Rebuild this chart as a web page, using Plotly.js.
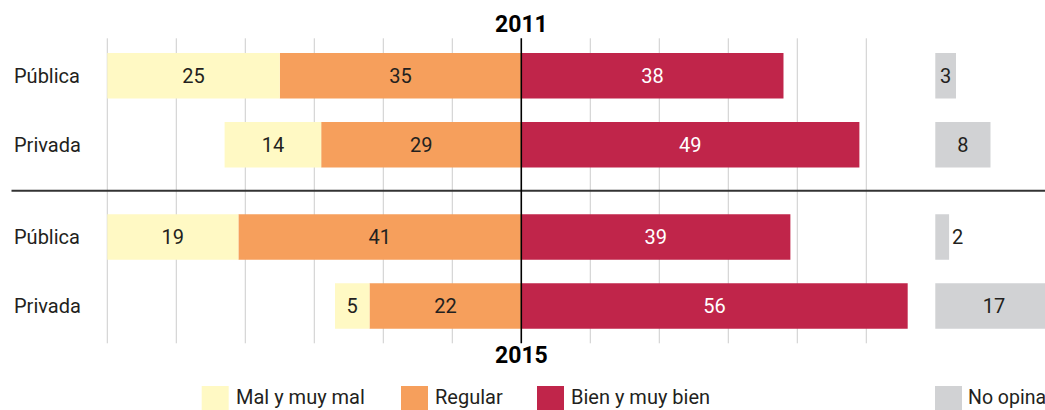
<!DOCTYPE html>
<html><head><meta charset="utf-8">
<script src="https://cdn.plot.ly/plotly-3.0.1.min.js"></script>
<style>html,body{margin:0;padding:0;background:#fff}#chart{width:1045px;height:410px}</style>
</head><body><div id="chart"></div>
<script>
const years = ['2011', '2015'];
const sectors = ['Pública', 'Privada'];
const mal2011 = [25, 14];
const regular2011 = [35, 29];
const bien2011 = [38, 49];
const noOpina2011 = [3, 8];
const mal2015 = [19, 5];
const regular2015 = [41, 22];
const bien2015 = [39, 56];
const noOpina2015 = [2, 17];
const seriesNames = ['Mal y muy mal', 'Regular', 'Bien y muy bien', 'No opina'];
const colors = ['#FFF9C4', '#F69F5C', '#C0254A', '#D1D2D4'];
const gridTicks = [-60, -50, -40, -30, -20, -10, 0, 10, 20, 30, 40, 50];
const noOpinaBase = 60;

const FONT = 'Roboto, "Open Sans", sans-serif';
const DARK = '#231F20';
const W = 1045, H = 410;
const px2x = p => p / W;
const py2y = p => 1 - p / H;

function yearTraces(mal, regular, bien, noOp, yax, noOpPos) {
  const common = {type: 'bar', orientation: 'h', y: sectors, yaxis: yax, xaxis: 'x',
    width: 0.66, textangle: 0, constraintext: 'none', insidetextanchor: 'middle',
    hoverinfo: 'skip', showlegend: false, marker: {line: {width: 0}}};
  return [
    Object.assign({}, common, {name: seriesNames[1], x: regular.map(v => -v), text: regular.map(String),
      textposition: 'inside', marker: {color: colors[1], line: {width: 0}},
      insidetextfont: {family: FONT, size: 20, color: DARK}}),
    Object.assign({}, common, {name: seriesNames[0], x: mal.map(v => -v), text: mal.map(String),
      textposition: 'inside', marker: {color: colors[0], line: {width: 0}},
      insidetextfont: {family: FONT, size: 20, color: DARK}}),
    Object.assign({}, common, {name: seriesNames[2], x: bien, text: bien.map(String),
      textposition: 'inside', marker: {color: colors[2], line: {width: 0}},
      insidetextfont: {family: FONT, size: 20, color: '#FFFFFF'}}),
    Object.assign({}, common, {name: seriesNames[3], x: noOp, base: noOp.map(() => noOpinaBase),
      text: noOp.map(String), textposition: noOpPos, marker: {color: colors[3], line: {width: 0}},
      insidetextfont: {family: FONT, size: 20, color: DARK},
      outsidetextfont: {family: FONT, size: 20, color: DARK}})
  ];
}

const data = [].concat(
  yearTraces(mal2011, regular2011, bien2011, noOpina2011, 'y', ['inside', 'inside']),
  yearTraces(mal2015, regular2015, bien2015, noOpina2015, 'y2', ['outside', 'inside'])
);

const shapes = [];
gridTicks.forEach(t => {
  shapes.push({type: 'line', xref: 'x', yref: 'paper', x0: t, x1: t,
    y0: py2y(38.3), y1: py2y(343.3),
    line: {color: t === 0 ? '#000000' : '#CDCDCD', width: t === 0 ? 1.6 : 1}, layer: t === 0 ? 'above' : 'below'});
});
shapes.push({type: 'line', xref: 'paper', yref: 'paper', x0: px2x(11.5), x1: 1,
  y0: py2y(190.7), y1: py2y(190.7), line: {color: '#333333', width: 2}, layer: 'below'});

const annotations = [];
sectors.forEach(s => {
  ['y', 'y2'].forEach(ya => {
    annotations.push({xref: 'paper', yref: ya, x: px2x(12), y: s, text: s, showarrow: false,
      xanchor: 'left', yanchor: 'middle', font: {family: FONT, size: 20, color: DARK}});
  });
});
annotations.push({xref: 'x', yref: 'paper', x: 0, y: py2y(24.8), text: '<b>' + years[0] + '</b>',
  showarrow: false, xanchor: 'center', yanchor: 'middle', font: {family: FONT, size: 23, color: '#000'}});
annotations.push({xref: 'x', yref: 'paper', x: 0, y: py2y(355.5), text: '<b>' + years[1] + '</b>',
  showarrow: false, xanchor: 'center', yanchor: 'middle', font: {family: FONT, size: 23, color: '#000'}});

// legend
const legSquareX = [201.7, 401, 537, 935];
const legFontSize = [20, 20, 20, 19.5];
const legGap = [32, 32, 32, 31];
seriesNames.forEach((name, i) => {
  const x0 = legSquareX[i];
  shapes.push({type: 'rect', xref: 'paper', yref: 'paper', x0: px2x(x0), x1: px2x(x0 + 27),
    y0: py2y(386), y1: py2y(413), fillcolor: colors[i], line: {width: 0}});
  annotations.push({xref: 'paper', yref: 'paper', x: px2x(x0 + legGap[i]), y: py2y(397), text: name,
    showarrow: false, xanchor: 'left', yanchor: 'middle', font: {family: FONT, size: legFontSize[i], color: DARK}});
});

const hiddenAxis = {showgrid: false, zeroline: false, showline: false, showticklabels: false, ticks: ''};
const layout = {
  width: W, height: H,
  margin: {l: 0, r: 0, t: 0, b: 0, pad: 0},
  paper_bgcolor: '#FFFFFF', plot_bgcolor: 'rgba(0,0,0,0)',
  barmode: 'relative', hovermode: false, showlegend: false,
  font: {family: FONT, color: DARK},
  xaxis: Object.assign({range: [-75.55, 75.9], autorange: false, anchor: 'y', fixedrange: true}, hiddenAxis),
  yaxis: Object.assign({type: 'category', categoryarray: sectors, categoryorder: 'array',
    range: [1.5, -0.5], autorange: false, domain: [py2y(179.3), py2y(41.3)], anchor: 'x', fixedrange: true}, hiddenAxis),
  yaxis2: Object.assign({type: 'category', categoryarray: sectors, categoryorder: 'array',
    range: [1.5, -0.5], autorange: false, domain: [py2y(340.4), py2y(202.4)], anchor: 'x', fixedrange: true}, hiddenAxis),
  shapes: shapes,
  annotations: annotations
};

Plotly.newPlot('chart', data, layout, {staticPlot: true, displayModeBar: false});
</script>
</body></html>
